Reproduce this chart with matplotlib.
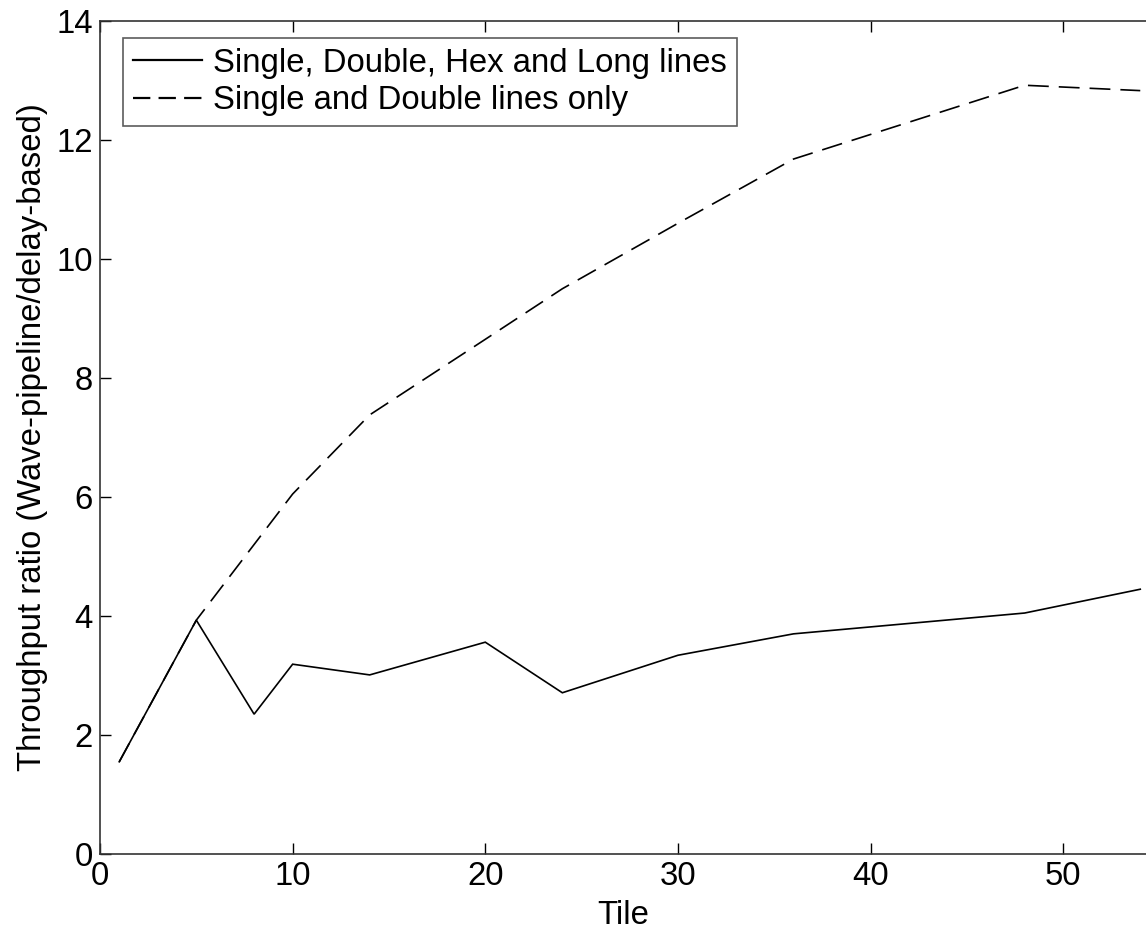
import matplotlib
matplotlib.use("Agg")
import matplotlib.pyplot as plt
from matplotlib.lines import Line2D

tiles = [1, 5, 8, 10, 14, 20, 24, 30, 36, 48, 54]
all_lines = [1.55, 3.93, 2.35, 3.19, 3.01, 3.56, 2.71, 3.34, 3.70, 4.05, 4.45]
tiles_sd = [1, 5, 10, 14, 20, 24, 30, 36, 48, 54]
sd_only = [1.55, 3.93, 6.05, 7.38, 8.65, 9.50, 10.60, 11.68, 12.92, 12.83]
label_all = "Single, Double, Hex and Long lines"
label_sd = "Single and Double lines only"

FS = 23.7
plt.rcParams['font.family'] = ['Liberation Sans', 'DejaVu Sans']
fig = plt.figure(figsize=(11.46, 9.33), dpi=100)
W, H = 1146, 933
x0, x1, y0, y1 = 100, 1147, 854, 21
ax = fig.add_axes([x0 / W, 1 - y0 / H, (x1 - x0) / W, (y0 - y1) / H])

ax.plot(tiles, all_lines, color='black', lw=1.2, solid_joinstyle='miter')
l2, = ax.plot(tiles_sd, sd_only, color='black', lw=1.2)
l2.set_dashes([12.5, 6])

ax.set_xlim(0, 54.35)
ax.set_ylim(0, 14)
ax.set_xticks([0, 10, 20, 30, 40, 50])
ax.set_yticks([0, 2, 4, 6, 8, 10, 12, 14])
ax.tick_params(direction='in', length=8, width=1, top=True, right=False,
               labelsize=FS, pad=5, colors='black')
for s in ['left', 'bottom', 'top']:
    ax.spines[s].set_linewidth(1.2)
    ax.spines[s].set_color('#333333')
ax.spines['right'].set_visible(False)

ax.set_xlabel('Tile', fontsize=FS, labelpad=6)
ax.set_ylabel('Throughput ratio (Wave-pipeline/delay-based)', fontsize=FS, labelpad=6)

h1 = Line2D([0], [0], color='black', lw=1.6)
h2 = Line2D([0], [0], color='black', lw=1.6, dashes=[7.8, 3.7])
leg = ax.legend([h1, h2], [label_all, label_sd], loc='upper left',
                bbox_to_anchor=(123 / W, 1 - 38 / H), bbox_transform=fig.transFigure,
                fontsize=FS, frameon=True, fancybox=False, handlelength=2.1,
                handletextpad=0.33, borderpad=0.3, labelspacing=0.2,
                borderaxespad=0)
leg.get_frame().set_edgecolor('#333333')
leg.get_frame().set_linewidth(1.2)

fig.savefig('out.png', dpi=100)
